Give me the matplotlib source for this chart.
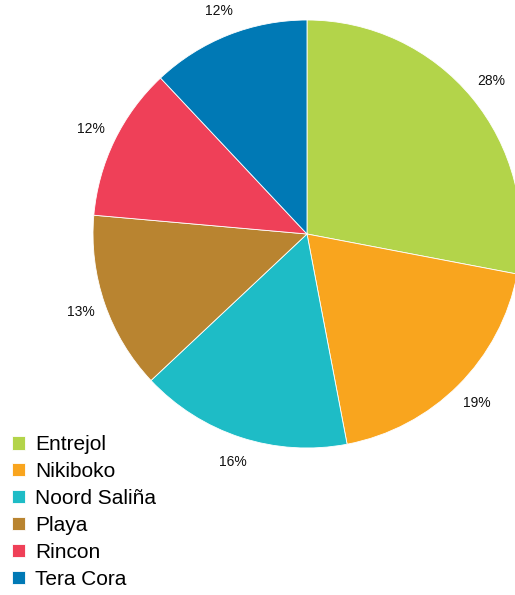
import matplotlib.pyplot as plt

plt.rcParams['font.family'] = ['Liberation Sans', 'DejaVu Sans']

areas = ['Entrejol', 'Nikiboko', 'Noord Saliña', 'Playa', 'Rincon', 'Tera Cora']
shares = [28, 19, 16, 13.4, 11.6, 12]
colors = ['#B3D44A', '#F9A51E', '#1EBCC6', '#B98430', '#EF4058', '#0079B5']


def main():
  fig = plt.figure(figsize=(5.15, 5.95), dpi=100)
  # pie centre ~ (307, 234) px, radius ~214 px
  ax = fig.add_axes([93 / 515, 147 / 595, 428 / 515, 428 / 595])

  wedges, texts, pcts = ax.pie(
    shares,
    colors=colors,
    startangle=90,
    counterclock=False,
    autopct='%.0f%%',
    pctdistance=1.12,
    wedgeprops=dict(edgecolor='white', linewidth=0.6),
    textprops=dict(fontsize=10, color='#111111'),
  )
  ax.set_xlim(-1, 1)
  ax.set_ylim(-1, 1)
  ax.set_aspect('equal')

  leg = fig.legend(
    wedges, areas,
    loc='upper left',
    bbox_to_anchor=(0.012, 1 - 429 / 595),
    frameon=True,
    fontsize=15,
    handlelength=0.6,
    handleheight=0.6,
    handletextpad=0.5,
    labelspacing=0.38,
    borderpad=0.3,
    borderaxespad=0,
  )
  leg.get_frame().set_facecolor('white')
  leg.get_frame().set_edgecolor('none')
  leg.get_frame().set_alpha(1)

  fig.savefig('out.png', dpi=100)


if __name__ == '__main__':
  main()
